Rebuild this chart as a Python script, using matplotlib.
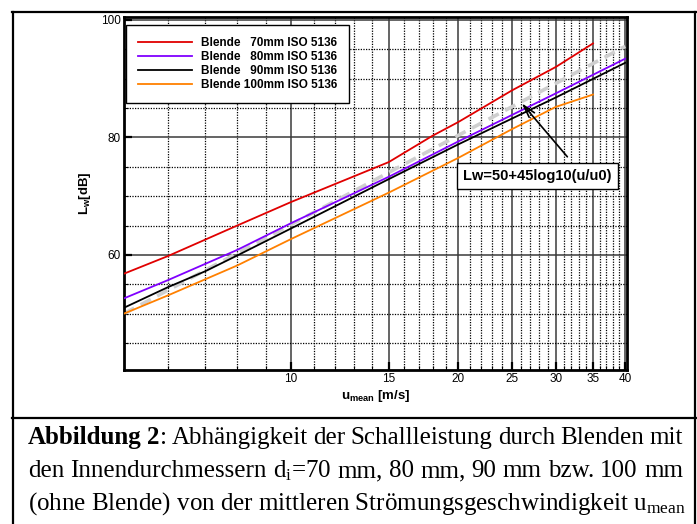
import numpy as np
import matplotlib
matplotlib.use('Agg')
import matplotlib.pyplot as plt
from matplotlib.ticker import FixedLocator, FixedFormatter, NullFormatter
from matplotlib.lines import Line2D
from matplotlib.transforms import IdentityTransform

plt.rcParams['font.family'] = ['Liberation Sans', 'DejaVu Sans']

# values (u in m/s, Lw in dB)
u_70 = [5, 6, 8, 10, 15, 16, 18, 20, 25, 30, 35]
lw_70 = [56.8, 59.8, 65.0, 69.0, 75.8, 77.4, 80.3, 82.6, 88.0, 92.0, 96.0]
u_80 = [5, 6, 8, 10, 15, 20, 30, 40]
lw_80 = [52.6, 55.7, 60.85, 65.4, 73.3, 79.3, 87.5, 93.4]
u_90 = [5, 6, 7, 8, 10, 15, 20, 30, 40]
lw_90 = [51.0, 54.5, 57.2, 59.9, 64.5, 72.9, 78.8, 86.8, 92.7]
u_100 = [5, 6, 8, 10, 15, 20, 25, 30, 35]
lw_100 = [50.0, 53.1, 58.2, 62.7, 70.6, 76.5, 81.4, 85.2, 87.3]
u_fit = [5, 40]
lw_fit = [50.0, 95.5]

labels = ['Blende   70mm ISO 5136', 'Blende   80mm ISO 5136',
          'Blende   90mm ISO 5136', 'Blende 100mm ISO 5136']
colors = ['#e00000', '#8000ff', 'black', '#ff8000']

x_major = [10, 15, 20, 25, 30, 35, 40]
x_minor = [6, 7, 8, 9, 11, 12, 13, 14, 16, 17, 18, 19, 21, 22, 23, 24,
           26, 27, 28, 29, 31, 32, 33, 34, 36, 37, 38, 39]
y_major = [60, 80, 100]
y_minor = [45, 50, 55, 65, 70, 75, 85, 90, 95]

W, H = 697, 524
fig = plt.figure(figsize=(W / 100, H / 100), dpi=100)
ax = fig.add_axes([124 / W, 1 - 370 / H, 503 / W, 353 / H])

ax.plot(u_fit, lw_fit, color='#cfcfcf', lw=2.6, ls=(0, (3.2, 2.0)), zorder=2)
for u, l, c, lab in zip([u_70, u_80, u_90, u_100], [lw_70, lw_80, lw_90, lw_100], colors, labels):
    ax.plot(u, l, color=c, lw=1.3, label=lab, zorder=3)

ax.set_xscale('log')
ax.set_xlim(5, 40.3)
ax.set_ylim(40.4, 100.5)
ax.xaxis.set_major_locator(FixedLocator(x_major))
ax.xaxis.set_major_formatter(FixedFormatter([str(v) for v in x_major]))
ax.xaxis.set_minor_locator(FixedLocator(x_minor))
ax.xaxis.set_minor_formatter(NullFormatter())
ax.yaxis.set_major_locator(FixedLocator(y_major))
ax.yaxis.set_minor_locator(FixedLocator(y_minor))

ax.grid(which='major', color='#3a3a3a', lw=1.1, ls='-', zorder=1)
ax.grid(which='minor', color='black', lw=0.9, ls=(0, (1, 1.1)), zorder=1)
ax.set_axisbelow(True)
ax.tick_params(which='major', direction='in', length=6, width=1.6, labelsize=8.5, pad=2.5)
ax.tick_params(which='minor', direction='in', length=3, width=0.8)
for s in ax.spines.values():
    s.set_linewidth(2)

ax.set_xlabel(r'$\mathregular{u_{mean}}$ [m/s]', fontsize=9.5, fontweight='bold')
ax.xaxis.set_label_coords(0.5, -0.05)
ax.set_ylabel(r'$\mathregular{L_w}$[dB]', fontsize=9.5, fontweight='bold')
ax.yaxis.set_label_coords(-0.062, 0.5)

leg = ax.legend(loc='upper left', bbox_to_anchor=(0.004, 0.977), borderaxespad=0,
                fancybox=False, framealpha=1, edgecolor='black',
                prop={'size': 8.5, 'weight': 'bold'}, handlelength=4.6,
                handletextpad=0.76, borderpad=1.0, labelspacing=0.17)
leg.get_frame().set_linewidth(1.0)
leg.set_zorder(5)

ax.annotate('', xy=(0.787, 0.762), xytext=(0.885, 0.598), xycoords='axes fraction',
            arrowprops=dict(arrowstyle='->,head_length=0.9,head_width=0.25',
                            color='black', lw=1.2), zorder=6)
ax.text(0.822, 0.55, 'Lw=50+45log10(u/u0)', transform=ax.transAxes, fontsize=10.5,
        fontweight='bold', ha='center', va='center', zorder=7,
        bbox=dict(boxstyle='square,pad=0.42', fc='white', ec='black', lw=1.0))

# outer frame and caption divider
def fline(xs, ys):
    fig.add_artist(Line2D([x / W for x in xs], [1 - y / H for y in ys],
                          transform=fig.transFigure, color='black', lw=1.6))

fline([13, 13], [12, H + 2])
fline([695, 695], [12, H + 2])
fline([12, 696], [12, 12])
fline([12, 696], [418, 418])

# caption, justified like the source document
cap_size = 18
serif = 'Liberation Serif'
renderer = fig.canvas.get_renderer()


def place_line(tokens, baseline, x0, x1):
    objs = []
    for s, bold, sp in tokens:
        t = fig.text(0, H - baseline, s, fontsize=cap_size, family=serif,
                     fontweight='bold' if bold else 'normal', va='baseline',
                     transform=IdentityTransform())
        objs.append((t, sp))
    widths = [t.get_window_extent(renderer).width for t, sp in objs]
    ngap = sum(1 for t, sp in objs if sp)
    gap = (x1 - x0 - sum(widths)) / ngap
    x = x0
    for (t, sp), w in zip(objs, widths):
        if sp:
            x += gap
        t.set_x(x)
        x += w


line1 = [('Abbildung', True, False), ('2', True, True), (':', False, False),
         ('Abhängigkeit', False, True), ('der', False, True), ('Schallleistung', False, True),
         ('durch', False, True), ('Blenden', False, True), ('mit', False, True)]
line2 = [(w, False, i > 0) for i, w in enumerate(
    ['den', 'Innendurchmessern', r'$\mathregular{d_i}$=70', 'mm,', '80', 'mm,',
     '90', 'mm', 'bzw.', '100', 'mm'])]
place_line(line1, 444, 28, 683)
place_line(line2, 477, 28, 683)
fig.text(28, H - 510, r'(ohne Blende) von der mittleren Strömungsgeschwindigkeit $\mathregular{u_{mean}}$',
         fontsize=cap_size, family=serif, va='baseline', transform=IdentityTransform())

fig.savefig('out.png', dpi=100)
